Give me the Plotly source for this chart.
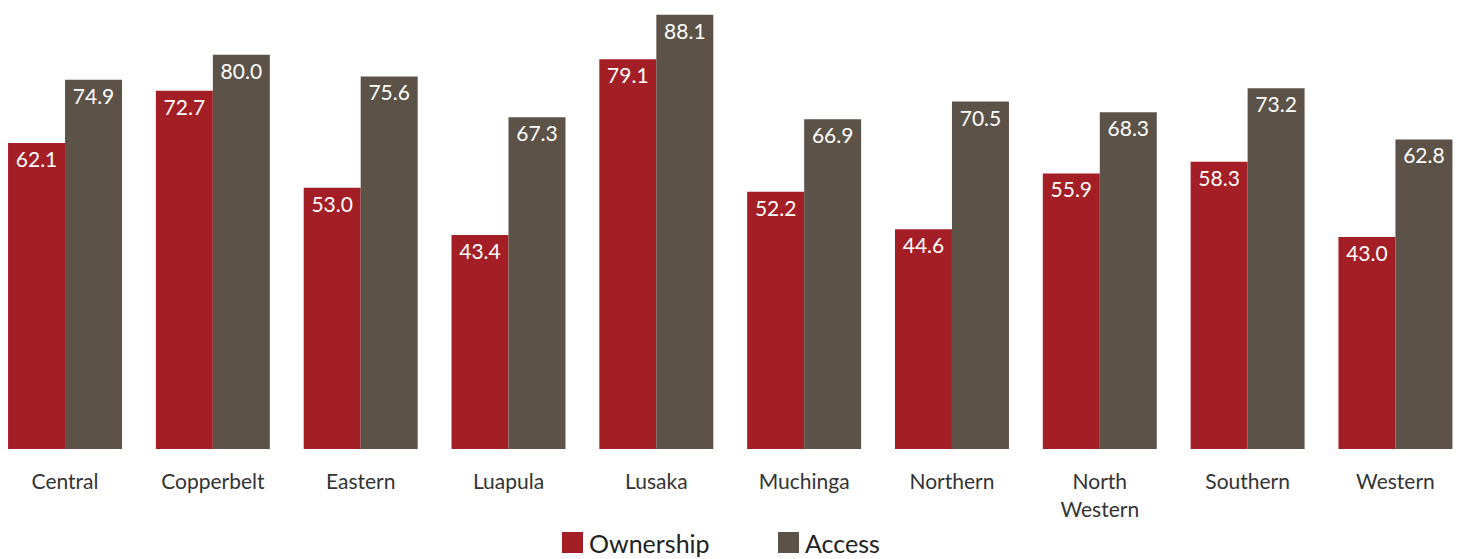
import plotly.graph_objects as go

provinces = ["Central", "Copperbelt", "Eastern", "Luapula", "Lusaka",
             "Muchinga", "Northern", "North<br>Western", "Southern", "Western"]
ownership = [62.1, 72.7, 53.0, 43.4, 79.1, 52.2, 44.6, 55.9, 58.3, 43.0]
access = [74.9, 80.0, 75.6, 67.3, 88.1, 66.9, 70.5, 68.3, 73.2, 62.8]
series_names = ["Ownership", "Access"]

RED = "#A31E25"
GREY = "#5C5247"
FONT = "Lato, 'Open Sans', sans-serif"
W, H = 1459, 559
BOTTOM = 110
PLOT_H = H - BOTTOM

fig = go.Figure()
for name, vals, col in [(series_names[0], ownership, RED), (series_names[1], access, GREY)]:
    fig.add_trace(go.Bar(
        x=provinces, y=vals, name=name, marker=dict(color=col, line=dict(width=0)),
        text=[f"{v:.1f}" for v in vals], textposition="inside",
        insidetextanchor="end", textangle=0,
        textfont=dict(family=FONT, size=21, color="white"),
        showlegend=False,
    ))

# Legend drawn as paper-space swatches and labels
def px_x(p):
    return p / W

def px_y(p):
    return (PLOT_H - p) / PLOT_H

legend_items = [(series_names[0], RED, 562), (series_names[1], GREY, 778)]
for name, col, x0 in legend_items:
    fig.add_shape(type="rect", xref="paper", yref="paper",
                  x0=px_x(x0), x1=px_x(x0 + 21), y0=px_y(553), y1=px_y(532),
                  fillcolor=col, line=dict(width=0))
    fig.add_annotation(xref="paper", yref="paper", x=px_x(x0 + 25), y=px_y(543),
                       xanchor="left", yanchor="middle", showarrow=False,
                       text=name, font=dict(family=FONT, size=25, color="#222222"))

fig.update_layout(
    width=W, height=H,
    margin=dict(l=0, r=0, t=0, b=BOTTOM, autoexpand=False),
    paper_bgcolor="white", plot_bgcolor="white",
    barmode="group", bargap=0.229, bargroupgap=0,
    showlegend=False,
    font=dict(family=FONT, color="#333333"),
    xaxis=dict(
        type="category", range=[-0.44, 9.43], showgrid=False, showline=False,
        zeroline=False, ticks="outside", ticklen=14, tickcolor="rgba(0,0,0,0)",
        tickfont=dict(family=FONT, size=21, color="#333333"),
    ),
    yaxis=dict(range=[0, 91.1], visible=False, showgrid=False, zeroline=False),
)

fig.write_html("out.html")
